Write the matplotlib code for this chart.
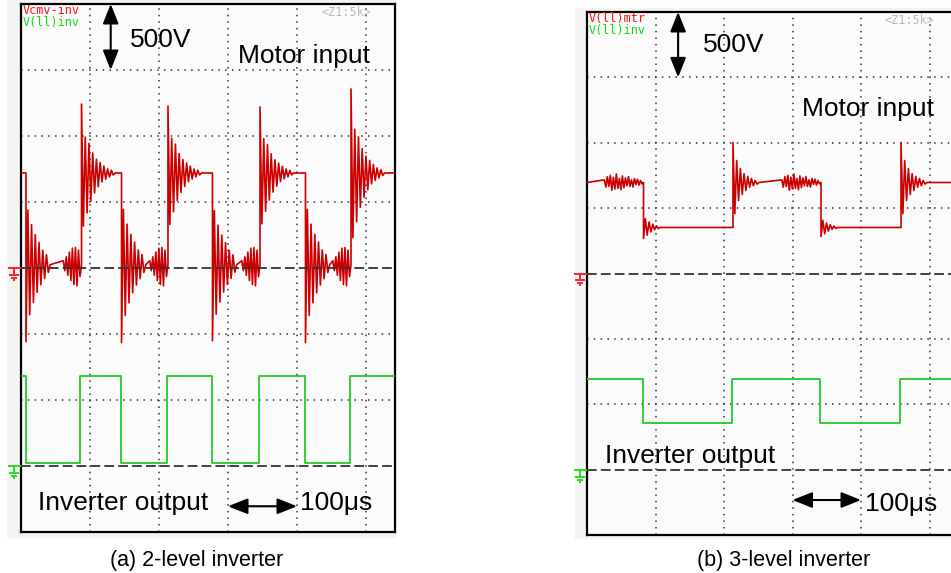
import matplotlib
matplotlib.use('Agg')
import matplotlib.pyplot as plt
from matplotlib.patches import Rectangle

plt.rcParams['font.family'] = ['Liberation Sans', 'DejaVu Sans']
plt.rcParams['lines.scale_dashes'] = False

# ---- data (time in us, voltage in V; 100 us/div, 500 V/div) ----
# (a) 2-level inverter
red_a_start = 720
red_a_edges = [7.2, 87.7, 145.7, 213.0, 277.5, 346.4, 412.3, 478.3]
red_a_levels = [25, 720, 25, 720, 25, 720, 25, 720]
red_a_kicks = [583, 522, 590, 507, 576, 500, 590, 636]
green_a_start = 682
green_a_edges = [6.8, 85.5, 144.9, 211.6, 276.8, 344.9, 410.9, 476.8]
green_a_levels = [20, 682, 20, 682, 20, 682, 20, 682]

ring_a_up = [1.0, -0.77, 0.52, -0.58, 0.43, -0.41, 0.29, -0.29, 0.20,
             -0.20, 0.15, -0.13, 0.10, -0.09, 0.06, -0.06, 0.04, -0.03]
ring_a_down = [-1.0, 0.71, -0.65, 0.52, -0.49, 0.39, -0.36, 0.29, -0.26,
               0.19, -0.18, 0.13, -0.10]
# oscillation that builds up in the low state just before each rising edge (V)
burst_a = [30, -45, 60, -80, 95, -120, 125, -150, 130, -160, 110, -90]

# (b) 3-level inverter
red_b_start = 696
red_b_edges = [82.5, 213.1, 341.6, 458.4]
red_b_levels = [352, 696, 352, 696]
red_b_kicks = [84, 306, 69, 306]
green_b_start = 690
green_b_edges = [81.8, 211.7, 340.1, 456.9]
green_b_levels = [355, 690, 355, 690]

ring_b_up = [1.0, -0.78, 0.55, -0.45, 0.35, -0.30, 0.22, -0.20, 0.15,
             -0.12, 0.10, -0.08, 0.05, -0.04]
ring_b_down = [-1.0, 0.8, -0.7, 0.5, -0.4, 0.3, -0.2, 0.15, -0.1]
# ripple on the high state before each falling edge (V)
burst_b = [20, -35, 45, -30, 55, -60, 40, -50, 65, -45, 30, -55, 50,
           -40, 35, -25, 45, -30, 20, -35, 30, -15, 25, -20, 15, -10]

HALF = 2.7      # half period of the ringing, us
BSTEP = 2.2


def trace(t_end, start, edges, levels, kicks=None, up=(), down=(),
          burst=None, burst_up=True):
    t, v, cur = [0.0], [start], start
    for i, (e, lv) in enumerate(zip(edges, levels)):
        rising = lv > cur
        if burst is not None and rising == burst_up:
            n = len(burst)
            for j, b in enumerate(burst):
                t.append(e - (n - j) * BSTEP)
                v.append(cur + b)
        t.append(e)
        v.append(cur)
        ring = up if rising else down
        k = kicks[i] if kicks else 0
        for j, f in enumerate(ring):
            t.append(e + j * HALF)
            v.append(lv + k * f)
        t.append(e + len(ring) * HALF)
        v.append(lv)
        cur = lv
    t.append(t_end)
    v.append(cur)
    return t, v


W, H = 951, 573
fig = plt.figure(figsize=(W / 100, H / 100), dpi=100)

RED = '#cc0000'
GREEN = '#22cc22'


def fx(px):
    return px / W


def fy(py):
    return 1 - py / H


# light grey screenshot background (behind the axes)
fig.patches.append(Rectangle((fx(7), fy(537)), (395 - 7) / W, 537 / H,
                             transform=fig.transFigure, color='#f4f4f4', zorder=-5))
fig.patches.append(Rectangle((fx(575), fy(538)), (951 - 575) / W, (538 - 8) / H,
                             transform=fig.transFigure, color='#f4f4f4', zorder=-5))


def panel(left, top, bottom, right, pxdiv_x, pxdiv_y, frame_right=True):
    ax = fig.add_axes([fx(left), fy(bottom), (right - left) / W, (bottom - top) / H])
    ax.set_facecolor('#fbfbfb')
    ax.set_xlim(0, (right - left) / pxdiv_x * 100)
    ax.set_ylim(0, 8)
    ax.set_xticks([])
    ax.set_yticks([])
    for s in ax.spines.values():
        s.set_linewidth(1.6)
        s.set_color('black')
    if not frame_right:
        ax.spines['right'].set_visible(False)
    for gx in [100, 200, 300, 400, 500]:
        ax.axvline(gx, color='#333333', lw=1.1, ls=(0, (1.1, 3.6)), zorder=1)
    for gy in [2, 3, 5, 6, 7]:
        ax.axhline(gy, color='#333333', lw=1.1, ls=(0, (1.1, 3.8)), zorder=1)
    for gy in [1, 4]:
        ax.axhline(gy, color='#333333', lw=1.3, ls=(0, (7, 3)), zorder=4)
    return ax


def ground(ax, y, color, pxdiv_x, pxdiv_y):
    sx = 100 / pxdiv_x
    sy = 1 / pxdiv_y
    segs = [((-13, 0), (0, 0)), ((-7, -7), (0, 6)), ((-12, -2), (7, 7)),
            ((-10, -4), (10, 10)), ((-8, -6), (12, 12))]
    for xs, ys in segs:
        ax.plot([x * sx for x in xs], [y - yy * sy for yy in ys], color=color,
                lw=1.4, clip_on=False, solid_capstyle='butt', zorder=5)


def to_div(vals, offset):
    return [offset + v / 500 for v in vals]


MONO = dict(family='DejaVu Sans Mono', fontsize=8.5, ha='left', zorder=6)

# ---- panel (a) ----
ax_a = panel(21, 4, 532, 395, 69, 66)
xmax_a = (395 - 21) / 69 * 100
t, v = trace(xmax_a, red_a_start, red_a_edges, red_a_levels, red_a_kicks,
             ring_a_up, ring_a_down, burst=burst_a, burst_up=True)
ax_a.plot(t, to_div(v, 4), color=RED, lw=1.2, zorder=3)
t, v = trace(xmax_a, green_a_start, green_a_edges, green_a_levels)
ax_a.plot(t, to_div(v, 1), color=GREEN, lw=1.3, zorder=3)
ground(ax_a, 4, '#ff2222', 69, 66)
ground(ax_a, 1, '#22dd22', 69, 66)

ax_a.text(3, 8.0, 'Vcmv-inv', color='#ff1111', va='top', **MONO)
ax_a.text(3, 7.82, 'V(ll)inv', color='#11dd11', va='top', **MONO)
ax_a.text(435, 7.87, '<Z1:5k>', color='#b8b8b8', va='center', **MONO)
ax_a.text(158, 7.35, '500V', fontsize=19, va='baseline', ha='left', zorder=6)
ax_a.text(314.5, 7.11, 'Motor input', fontsize=19, va='baseline', ha='left', zorder=6)
ax_a.text(24.6, 0.333, 'Inverter output', fontsize=19, va='baseline', ha='left', zorder=6)
ax_a.text(404, 0.333, '100\u03bcs', fontsize=19, va='baseline', ha='left', zorder=6)
arrow = dict(arrowstyle='<|-|>,head_length=0.6,head_width=0.24', color='black',
             lw=1.5, mutation_scale=20, shrinkA=0, shrinkB=0)
ax_a.annotate('', xy=(130, 8), xytext=(130, 7), arrowprops=arrow, zorder=6)
ax_a.annotate('', xy=(400, 0.39), xytext=(300, 0.39), arrowprops=arrow, zorder=6)

# ---- panel (b) ----
ax_b = panel(587, 12, 535, 951, 68.5, 65.4, frame_right=False)
xmax_b = (951 - 587) / 68.5 * 100
t, v = trace(xmax_b, red_b_start, red_b_edges, red_b_levels, red_b_kicks,
             ring_b_up, ring_b_down, burst=burst_b, burst_up=False)
ax_b.plot(t, to_div(v, 4), color=RED, lw=1.2, zorder=3)
t, v = trace(xmax_b, green_b_start, green_b_edges, green_b_levels)
ax_b.plot(t, to_div(v, 1), color=GREEN, lw=1.3, zorder=3)
ground(ax_b, 4, '#ff2222', 68.5, 65.4)
ground(ax_b, 1, '#22dd22', 68.5, 65.4)

ax_b.text(3, 8.0, 'V(ll)mtr', color='#ff1111', va='top', **MONO)
ax_b.text(3, 7.82, 'V(ll)inv', color='#11dd11', va='top', **MONO)
ax_b.text(435, 7.87, '<Z1:5k>', color='#b8b8b8', va='center', **MONO)
ax_b.text(169, 7.385, '500V', fontsize=19, va='baseline', ha='left', zorder=6)
ax_b.text(314, 6.41, 'Motor input', fontsize=19, va='baseline', ha='left', zorder=6)
ax_b.text(26, 1.10, 'Inverter output', fontsize=19, va='baseline', ha='left', zorder=6)
ax_b.text(406, 0.367, '100\u03bcs', fontsize=19, va='baseline', ha='left', zorder=6)
ax_b.annotate('', xy=(133, 8), xytext=(133, 7), arrowprops=arrow, zorder=6)
ax_b.annotate('', xy=(400, 0.535), xytext=(300, 0.535), arrowprops=arrow, zorder=6)

# captions
fig.text(fx(197), fy(566), '(a) 2-level inverter', fontsize=15.5, ha='center', va='baseline')
fig.text(fx(784), fy(566), '(b) 3-level inverter', fontsize=15.5, ha='center', va='baseline')

fig.savefig('out.png', dpi=100)
